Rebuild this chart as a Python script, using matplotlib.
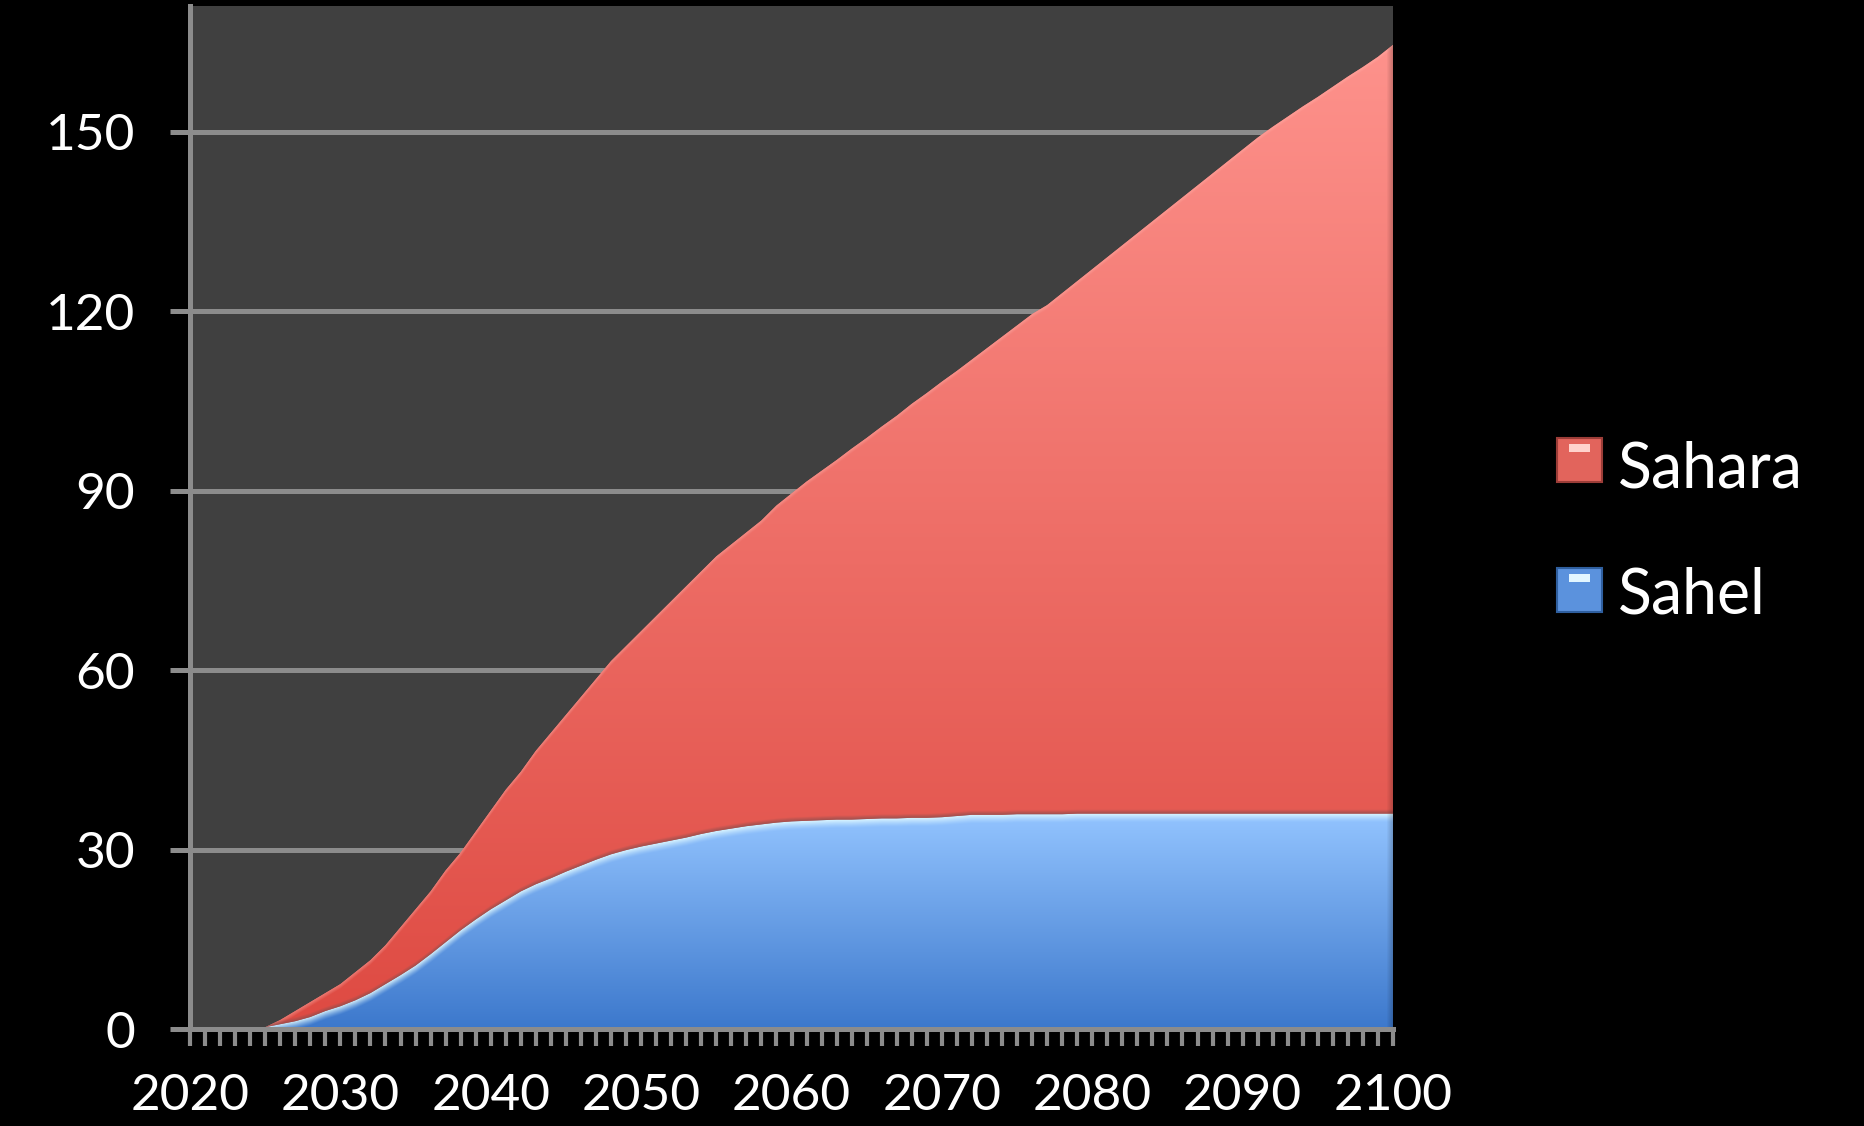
import numpy as np
import matplotlib
matplotlib.use("Agg")
import matplotlib.pyplot as plt
from matplotlib.colors import to_rgb
from matplotlib.patches import Rectangle

plt.rcParams['font.family'] = ['Lato', 'DejaVu Sans']

# yearly series, stacked: Sahel at the bottom, Sahara on top
years = list(range(2020, 2101))
sahel = [0, 0, 0, 0, 0, 0.3, 0.8, 1.3, 2.0, 3.0,
         3.8, 4.8, 6.0, 7.5, 9.0, 10.6, 12.5, 14.5, 16.5, 18.3,
         20.0, 21.5, 23.0, 24.2, 25.2, 26.3, 27.3, 28.3, 29.2, 29.9,
         30.5, 31.0, 31.5, 32.0, 32.6, 33.1, 33.5, 33.9, 34.2, 34.5,
         34.7, 34.8, 34.9, 35.0, 35.0, 35.1, 35.2, 35.2, 35.3, 35.3,
         35.4, 35.6, 35.8, 35.8, 35.8, 35.9, 35.9, 35.9, 35.9, 36.0,
         36.0, 36.0, 36.0, 36.0, 36.0, 36.0, 36.0, 36.0, 36.0, 36.0,
         36.0, 36.0, 36.0, 36.0, 36.0, 36.0, 36.0, 36.0, 36.0, 36.0,
         36.0]
sahara = [0, 0, 0, 0, 0, 0.0, 0.7, 1.7, 2.5, 3.0,
          3.7, 4.7, 5.5, 6.5, 8.0, 9.4, 10.5, 12.0, 13.0, 14.7,
          16.5, 18.5, 20.0, 22.3, 24.3, 26.2, 28.2, 30.2, 32.3, 34.1,
          36.0, 38.0, 40.0, 42.0, 43.9, 45.9, 47.5, 49.1, 50.8, 53.0,
          54.8, 56.7, 58.4, 60.1, 62.0, 63.7, 65.5, 67.3, 69.2, 71.0,
          72.8, 74.4, 76.1, 78.0, 79.9, 81.7, 83.6, 85.1, 87.1, 89.0,
          91.0, 93.0, 95.0, 97.0, 99.0, 101.0, 103.0, 105.0, 107.0, 109.0,
          111.0, 113.0, 114.8, 116.5, 118.2, 119.8, 121.5, 123.2, 124.8, 126.5,
          128.5]
labels = ["Sahara", "Sahel"]
yticks = [0, 30, 60, 90, 120, 150]
xticks = list(range(2020, 2101, 10))

W, H = 1864, 1126
YMAX = 171
fig = plt.figure(figsize=(W / 100, H / 100), dpi=100, facecolor="black")
ax = fig.add_axes([190 / W, 97 / H, 1203 / W, 1023 / H])
ax.set_facecolor("#404040")

polys = ax.stackplot(years, sahel, sahara, colors=["#5b92dd", "#ee6a62"],
                     linewidth=0, zorder=1.9)

# shaded fills: vertical gradient plus a light rim along each top edge
nx, ny = 1203, 1023
X, Y = np.meshgrid(np.linspace(2020, 2100, nx), np.linspace(0, YMAX, ny))
low = np.interp(X, years, sahel)
top = low + np.interp(X, years, sahara)
px = YMAX / ny
right = np.clip((2100 - X) / (80 / nx) / 6, 0, 1)[..., None]


def blend(a, b, w):
    return a * (1 - w[..., None]) + np.array(to_rgb(b)) * w[..., None]


def ramp(c0, c1, t):
    t = np.clip(t, 0, 1)[..., None]
    return np.array(to_rgb(c0)) * (1 - t) + np.array(to_rgb(c1)) * t


blue = ramp("#3c78cc", "#93c4ff", Y / 36)
d = (low - Y) / px
blue = blend(blue, "#e8ffff", np.clip(1 - d / 9, 0, 1) ** 1.3 * 0.9)
blue = blue * (0.8 + 0.2 * right)

red = ramp("#de4a42", "#ff958f", Y / YMAX)
d = (top - Y) / px
red = blend(red, "#ffc4bd", np.clip(1 - d / 5, 0, 1) * 0.4)
e = (Y - low) / px
red = blend(red, "#8a4e4e", np.clip(1 - e / 4, 0, 1) * 0.7)
red = red * (0.8 + 0.2 * right)

for img, poly in zip([blue, red], polys):
    im = ax.imshow(np.clip(img, 0, 1), extent=[2020, 2100, 0, YMAX],
                   origin="lower", aspect="auto", interpolation="bilinear",
                   zorder=2)
    im.set_clip_path(poly.get_paths()[0], ax.transData)

ax.set_xlim(2020, 2100)
ax.set_ylim(0, YMAX)

grey = "#8c8c8c"
ax.set_axisbelow(True)
ax.yaxis.grid(True, color=grey, lw=3.6)
for side in ["top", "right"]:
    ax.spines[side].set_visible(False)
for side in ["left", "bottom"]:
    ax.spines[side].set_color(grey)
    ax.spines[side].set_linewidth(3.6)
    ax.spines[side].set_zorder(3)

ax.set_yticks(yticks)
ax.set_yticklabels([str(v) for v in yticks])
ax.set_xticks(xticks)
ax.set_xticklabels([str(v) for v in xticks])
ax.set_xticks(years, minor=True)
ax.tick_params(axis="y", length=14.4, width=3.6, color=grey, pad=25,
               labelsize=37, labelcolor="white")
ax.tick_params(axis="x", which="both", length=12, width=3.0, color=grey,
               pad=20, labelsize=37, labelcolor="white")

# legend boxes and names at the right
entries = [("Sahara", 438, 488, "#e2645c", "#9c3d38", "#ffd2cc"),
           ("Sahel", 568, 613, "#5b92dd", "#2f5f9f", "#e2f6ff")]
for name, ytop, base, face, edge, hi in entries:
    fig.add_artist(Rectangle((1557 / W, (H - ytop - 44) / H), 45 / W, 44 / H,
                             transform=fig.transFigure, facecolor=face,
                             edgecolor=edge, lw=1.5))
    fig.add_artist(Rectangle((1569 / W, (H - ytop - 14) / H), 21 / W, 8 / H,
                             transform=fig.transFigure, facecolor=hi,
                             edgecolor="none"))
    fig.text(1618 / W, (H - base) / H, name, color="white", fontsize=45,
             va="baseline", ha="left")

fig.savefig("out.png", dpi=100, facecolor="black")
